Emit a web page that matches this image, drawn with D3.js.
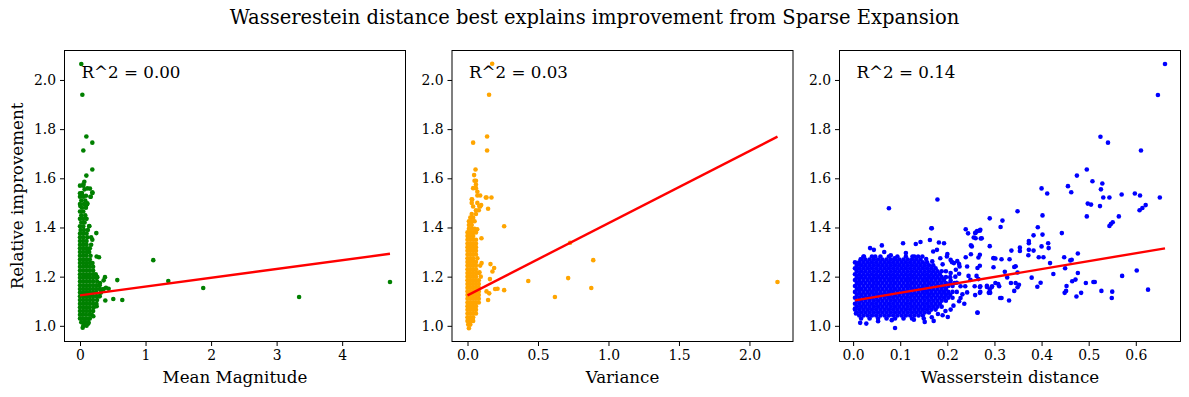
<!DOCTYPE html>
<html><head><meta charset="utf-8">
<script src="https://cdn.jsdelivr.net/npm/d3@7/dist/d3.min.js"></script>
<style>body{margin:0;background:#fff}svg{display:block}text{font-family:"DejaVu Serif",serif;fill:#000}</style>
</head><body><svg id="c" width="1189" height="397"></svg>
<script>
// ---------- DATA ----------
const title = "Wasserestein distance best explains improvement from Sparse Expansion";
const yLabel = "Relative improvement";
const xLabels = ["Mean Magnitude", "Variance", "Wasserstein distance"];
const r2Labels = ["R^2 = 0.00", "R^2 = 0.03", "R^2 = 0.14"];
const yTicks = [1.0, 1.2, 1.4, 1.6, 1.8, 2.0];
const magTicks = [0, 1, 2, 3, 4];
const varTicks = [0.0, 0.5, 1.0, 1.5, 2.0];
const wassTicks = [0.0, 0.1, 0.2, 0.3, 0.4, 0.5, 0.6];
// regression fits [intercept, slope]
const magFit = [1.124, 0.0357];
const varFit = [1.124, 0.2935];
const wassFit = [1.102, 0.322];

// dense core of Mean Magnitude panel: [y, [x...]]
const magCoreRows = [
[1.000,[0.05,0.10]],
[1.015,[0.02,0.07,0.13]],
[1.030,[0.00,0.05,0.10,0.15]],
[1.045,[0.00,0.04,0.09,0.14,0.18]],
[1.060,[0.00,0.05,0.10,0.15,0.20]],
[1.075,[0.00,0.05,0.10,0.15,0.21]],
[1.090,[0.00,0.05,0.10,0.15,0.20,0.25]],
[1.105,[0.00,0.05,0.10,0.15,0.20,0.26]],
[1.120,[0.00,0.05,0.10,0.15,0.20,0.25,0.30]],
[1.135,[0.00,0.05,0.10,0.15,0.20,0.25,0.32]],
[1.150,[0.00,0.05,0.10,0.15,0.20,0.25,0.30,0.36]],
[1.165,[0.00,0.05,0.10,0.15,0.20,0.25,0.30]],
[1.180,[0.00,0.05,0.10,0.15,0.20,0.26]],
[1.195,[0.00,0.05,0.10,0.15,0.20,0.25]],
[1.210,[0.00,0.05,0.10,0.15,0.20,0.24]],
[1.225,[0.00,0.05,0.10,0.15,0.20]],
[1.240,[0.00,0.05,0.10,0.15,0.20]],
[1.255,[0.00,0.05,0.10,0.15,0.19]],
[1.270,[0.00,0.05,0.10,0.15]],
[1.285,[0.00,0.05,0.10,0.16]],
[1.300,[0.00,0.05,0.10,0.14]],
[1.315,[0.00,0.05,0.10,0.15]],
[1.330,[0.00,0.05,0.10,0.17]],
[1.345,[0.00,0.05,0.10]],
[1.360,[0.00,0.05,0.11,0.17]],
[1.375,[0.00,0.05,0.10]],
[1.390,[0.01,0.06,0.12]],
[1.405,[0.00,0.05,0.14]],
[1.420,[0.02,0.07]],
[1.435,[0.00,0.05,0.10]],
[1.450,[0.02,0.08]],
[1.465,[0.00,0.05]],
[1.480,[0.03,0.09]],
[1.495,[0.00,0.06,0.11]],
[1.510,[0.02,0.08]],
[1.525,[0.00,0.05,0.16]],
[1.540,[0.03,0.19]],
[1.555,[0.07]],
[1.570,[0.00,0.05]]
];
const magOutliers = [[0.02,2.065],[0.036,1.94],[0.097,1.77],[0.188,1.745],[0.051,1.713],[0.188,1.636],[0.097,1.611],[0.066,1.586],[0.051,1.576],[0.112,1.559],[0.152,1.558],[0.0,1.539],[0.188,1.543],[0.163,1.525],[0.091,1.529],[0.03,1.532],[0.097,1.491],[0.005,1.487],[0.112,1.498],[0.249,1.377],[0.142,1.406],[0.188,1.35],[1.118,1.267],[0.254,1.282],[0.29,1.279],[0.381,1.198],[0.361,1.185],[0.569,1.186],[0.396,1.155],[0.437,1.151],[1.347,1.182],[1.88,1.154],[0.386,1.103],[0.508,1.109],[0.645,1.105],[0.041,0.992],[0.076,1.016],[0.127,1.009],[0.203,1.039],[0.254,1.08],[0.295,1.12],[0.33,1.147],[0.264,1.198],[0.305,1.174],[3.343,1.117],[4.73,1.178]];

// dense core of Variance panel
const varCoreRows = [
[0.990,[0.01]],
[1.005,[0.005,0.02]],
[1.020,[0.00,0.02,0.04]],
[1.035,[0.00,0.02,0.04]],
[1.050,[0.00,0.02,0.04,0.06]],
[1.065,[0.00,0.02,0.04,0.06]],
[1.080,[0.00,0.02,0.04,0.06]],
[1.095,[0.00,0.02,0.04,0.06,0.08]],
[1.110,[0.00,0.02,0.04,0.06,0.08]],
[1.125,[0.00,0.02,0.04,0.06,0.08]],
[1.140,[0.00,0.02,0.04,0.06,0.08]],
[1.155,[0.00,0.02,0.04,0.06,0.08]],
[1.170,[0.00,0.02,0.04,0.06,0.08]],
[1.185,[0.00,0.02,0.04,0.06,0.08]],
[1.200,[0.00,0.02,0.04,0.06]],
[1.215,[0.00,0.02,0.04,0.06,0.08]],
[1.230,[0.00,0.02,0.04,0.06]],
[1.245,[0.00,0.02,0.04,0.06,0.09]],
[1.260,[0.00,0.02,0.04,0.06]],
[1.275,[0.00,0.02,0.04,0.07]],
[1.290,[0.00,0.02,0.04,0.06]],
[1.305,[0.00,0.02,0.04,0.06]],
[1.320,[0.00,0.02,0.04,0.06]],
[1.335,[0.00,0.02,0.04,0.06]],
[1.350,[0.00,0.02,0.04,0.06]],
[1.365,[0.00,0.02,0.04]],
[1.380,[0.00,0.02,0.04,0.06]],
[1.395,[0.01,0.03,0.05]],
[1.410,[0.01,0.03]],
[1.425,[0.01,0.03,0.05]],
[1.440,[0.02,0.04]],
[1.455,[0.03,0.06]],
[1.470,[0.06,0.08]],
[1.485,[0.04,0.09]],
[1.500,[0.03,0.07]],
[1.515,[0.03]],
[1.530,[0.07,0.09]],
[1.545,[0.07]],
[1.560,[0.04,0.06]],
[1.575,[0.06]],
[1.590,[0.05,0.06]]
];
const varOutliers = [[0.175,2.066],[0.153,1.94],[0.139,1.77],[0.04,1.745],[0.139,1.713],[0.057,1.636],[0.047,1.613],[0.13,1.522],[0.17,1.522],[0.135,1.522],[0.033,1.514],[0.146,1.476],[0.097,1.491],[0.083,1.487],[0.26,1.405],[0.099,1.356],[0.069,1.393],[0.163,1.251],[0.189,1.235],[0.177,1.221],[0.159,1.19],[0.431,1.182],[0.213,1.151],[0.196,1.15],[0.26,1.145],[0.62,1.117],[0.146,1.105],[0.154,1.132],[0.135,1.14],[0.085,1.218],[0.094,1.2],[0.1,1.255],[0.714,1.194],[0.878,1.154],[0.892,1.267],[0.728,1.338],[2.199,1.178]];

// dense core of Wasserstein panel
const wassCoreRows = [
[1.030,[0.017,0.035,0.053,0.071,0.089,0.107,0.125,0.150]],
[1.042,[0.013,0.022,0.031,0.040,0.049,0.058,0.067,0.076,0.085,0.094,0.103,0.112,0.121,0.130,0.139,0.148]],
[1.054,[0.008,0.017,0.026,0.035,0.044,0.053,0.062,0.071,0.080,0.089,0.098,0.107,0.116,0.125,0.134,0.143,0.152,0.161]],
[1.066,[0.004,0.013,0.022,0.031,0.040,0.049,0.058,0.067,0.076,0.085,0.094,0.103,0.112,0.121,0.130,0.139,0.148,0.157,0.166,0.175]],
[1.078,[0.008,0.017,0.026,0.035,0.044,0.053,0.062,0.071,0.080,0.089,0.098,0.107,0.116,0.125,0.134,0.143,0.152,0.161,0.170,0.179,0.188]],
[1.090,[0.004,0.013,0.022,0.031,0.040,0.049,0.058,0.067,0.076,0.085,0.094,0.103,0.112,0.121,0.130,0.139,0.148,0.157,0.166,0.175,0.184]],
[1.102,[0.008,0.017,0.026,0.035,0.044,0.053,0.062,0.071,0.080,0.089,0.098,0.107,0.116,0.125,0.134,0.143,0.152,0.161,0.170,0.179,0.188,0.197]],
[1.114,[0.004,0.013,0.022,0.031,0.040,0.049,0.058,0.067,0.076,0.085,0.094,0.103,0.112,0.121,0.130,0.139,0.148,0.157,0.166,0.175,0.184,0.193,0.202,0.211]],
[1.126,[0.008,0.017,0.026,0.035,0.044,0.053,0.062,0.071,0.080,0.089,0.098,0.107,0.116,0.125,0.134,0.143,0.152,0.161,0.170,0.179,0.188,0.197,0.206]],
[1.138,[0.004,0.013,0.022,0.031,0.040,0.049,0.058,0.067,0.076,0.085,0.094,0.103,0.112,0.121,0.130,0.139,0.148,0.157,0.166,0.175,0.184,0.193,0.202,0.211,0.220]],
[1.150,[0.008,0.017,0.026,0.035,0.044,0.053,0.062,0.071,0.080,0.089,0.098,0.107,0.116,0.125,0.134,0.143,0.152,0.161,0.170,0.179,0.188,0.197]],
[1.162,[0.004,0.013,0.022,0.031,0.040,0.049,0.058,0.067,0.076,0.085,0.094,0.103,0.112,0.121,0.130,0.139,0.148,0.157,0.166,0.175,0.184,0.193,0.202,0.211]],
[1.174,[0.008,0.017,0.026,0.035,0.044,0.053,0.062,0.071,0.080,0.089,0.098,0.107,0.116,0.125,0.134,0.143,0.152,0.161,0.170,0.179,0.188,0.197,0.206,0.215]],
[1.186,[0.004,0.013,0.022,0.031,0.040,0.049,0.058,0.067,0.076,0.085,0.094,0.103,0.112,0.121,0.130,0.139,0.148,0.157,0.166,0.175,0.184,0.193]],
[1.198,[0.008,0.017,0.026,0.035,0.044,0.053,0.062,0.071,0.080,0.089,0.098,0.107,0.116,0.125,0.134,0.143,0.152,0.161,0.170,0.179,0.188,0.197,0.206]],
[1.210,[0.004,0.013,0.022,0.031,0.040,0.049,0.058,0.067,0.076,0.085,0.094,0.103,0.112,0.121,0.130,0.139,0.148,0.157,0.166,0.175,0.184]],
[1.222,[0.008,0.017,0.026,0.035,0.044,0.053,0.062,0.071,0.080,0.089,0.098,0.107,0.116,0.125,0.134,0.143,0.152,0.161,0.170,0.179,0.188,0.197]],
[1.234,[0.004,0.013,0.022,0.031,0.040,0.049,0.058,0.067,0.076,0.085,0.094,0.103,0.112,0.121,0.130,0.139,0.148,0.157,0.166,0.175]],
[1.246,[0.008,0.017,0.026,0.035,0.044,0.053,0.062,0.071,0.080,0.089,0.098,0.107,0.116,0.125,0.134,0.143,0.152,0.161,0.170]],
[1.258,[0.004,0.013,0.022,0.031,0.040,0.049,0.058,0.067,0.076,0.085,0.094,0.103,0.112,0.121,0.130,0.139,0.148,0.157]],
[1.270,[0.017,0.026,0.035,0.044,0.053,0.062,0.071,0.080,0.089,0.098,0.107,0.116,0.125,0.134,0.143]],
[1.282,[0.022,0.040,0.058,0.076,0.094,0.112,0.130]]
];
const wassOutliers = [[0.662,2.065],[0.647,1.939],[0.525,1.769],[0.541,1.745],[0.611,1.713],[0.496,1.636],[0.475,1.611],[0.508,1.588],[0.529,1.579],[0.456,1.568],[0.4,1.559],[0.463,1.543],[0.412,1.538],[0.598,1.538],[0.57,1.534],[0.609,1.53],[0.526,1.555],[0.531,1.522],[0.544,1.522],[0.651,1.522],[0.179,1.514],[0.076,1.478],[0.498,1.497],[0.505,1.493],[0.524,1.487],[0.621,1.491],[0.614,1.479],[0.608,1.47],[0.349,1.466],[0.402,1.449],[0.496,1.445],[0.564,1.445],[0.551,1.421],[0.547,1.414],[0.544,1.406],[0.29,1.437],[0.317,1.428],[0.313,1.402],[0.392,1.401],[0.167,1.397],[0.239,1.393],[0.263,1.385],[0.27,1.391],[0.259,1.377],[0.443,1.377],[0.402,1.371],[0.383,1.368],[0.373,1.345],[0.373,1.336],[0.414,1.336],[0.106,1.336],[0.271,1.355],[0.256,1.359],[0.29,1.324],[0.4,1.323],[0.415,1.316],[0.354,1.318],[0.373,1.309],[0.336,1.306],[0.383,1.306],[0.354,1.304],[0.372,1.287],[0.477,1.294],[0.298,1.275],[0.315,1.271],[0.332,1.271],[0.394,1.279],[0.404,1.279],[0.418,1.255],[0.448,1.279],[0.461,1.266],[0.464,1.269],[0.298,1.238],[0.342,1.239],[0.345,1.242],[0.322,1.22],[0.349,1.217],[0.425,1.211],[0.45,1.234],[0.602,1.225],[0.571,1.203],[0.327,1.197],[0.379,1.196],[0.477,1.215],[0.472,1.188],[0.465,1.181],[0.398,1.175],[0.308,1.17],[0.335,1.174],[0.345,1.174],[0.352,1.167],[0.391,1.159],[0.453,1.162],[0.494,1.174],[0.51,1.178],[0.513,1.178],[0.349,1.157],[0.342,1.142],[0.452,1.142],[0.449,1.134],[0.527,1.142],[0.55,1.139],[0.626,1.147],[0.474,1.119],[0.484,1.134],[0.549,1.113],[0.312,1.113],[0.331,1.103],[0.264,1.054],[0.291,1.134],[0.294,1.157],[0.27,1.138],[0.302,1.174],[0.288,1.134],[0.269,1.158],[0.244,1.376],[0.26,1.379],[0.269,1.387],[0.26,1.356],[0.273,1.356],[0.252,1.323],[0.25,1.327],[0.21,1.259],[0.221,1.263],[0.225,1.251],[0.239,1.279],[0.25,1.291],[0.266,1.278],[0.269,1.289],[0.226,1.241],[0.242,1.241],[0.264,1.235],[0.269,1.244],[0.207,1.215],[0.225,1.212],[0.245,1.203],[0.262,1.203],[0.249,1.187],[0.266,1.19],[0.207,1.184],[0.228,1.161],[0.238,1.161],[0.258,1.161],[0.27,1.161],[0.284,1.158],[0.242,1.136],[0.259,1.125],[0.269,1.134],[0.228,1.113],[0.225,1.1],[0.207,1.066],[0.201,1.036],[0.19,1.043],[0.264,1.053],[0.284,1.163],[0.29,1.147],[0.298,1.276],[0.295,1.161],[0.31,1.161],[0.315,1.113],[0.302,1.274],[0.015,1.012],[0.028,1.009],[0.089,0.991],[0.152,1.016],[0.053,1.019],[0.082,1.023],[0.036,1.316],[0.044,1.309],[0.061,1.327],[0.166,1.397],[0.143,1.341],[0.133,1.333],[0.163,1.349],[0.182,1.339],[0.193,1.336],[0.178,1.309],[0.126,1.282],[0.138,1.282],[0.147,1.282],[0.17,1.302],[0.185,1.275],[0.199,1.282],[0.207,1.268],[0.214,1.255],[0.016,1.271],[0.023,1.282],[0.006,1.232],[0.047,1.282],[0.08,1.287],[0.088,1.275],[0.217,1.2],[0.22,1.175],[0.232,1.128],[0.236,1.09],[0.213,1.082],[0.196,1.06],[0.18,1.048],[0.167,1.035],[0.218,1.228],[0.19,1.25],[0.168,1.262],[0.155,1.272],[0.112,1.296],[0.066,1.3],[0.2,1.292],[0.012,1.255],[0.004,1.07],[0.006,1.05],[0.171,1.02],[0.129,1.025]];

// ---------- DRAW ----------
const flat = rows => rows.flatMap(([yv, xs]) => xs.map(xv => [xv, yv]));
const panels = [
  {pts: flat(magCoreRows).concat(magOutliers), color: "green", ticks: magTicks, fmt: d3.format("d"), fit: magFit},
  {pts: flat(varCoreRows).concat(varOutliers), color: "orange", ticks: varTicks, fmt: d3.format(".1f"), fit: varFit},
  {pts: flat(wassCoreRows).concat(wassOutliers), color: "blue", ticks: wassTicks, fmt: d3.format(".1f"), fit: wassFit}
];
const svg = d3.select("#c");
const lefts = [64.5, 452, 839.5];
const pw = 341, plotTop = 50.5, ph = 291;
const allY = panels.flatMap(p => p.pts.map(d => d[1]));
const pad = ext => { const r = ext[1] - ext[0]; return [ext[0] - 0.05 * r, ext[1] + 0.05 * r]; };
const yDom = pad(d3.extent(allY));
const yScale = d3.scaleLinear().domain(yDom).range([plotTop + ph, plotTop]);

svg.append("text").attr("x", 594.5).attr("y", 24).attr("text-anchor", "middle")
  .style("font-size", "19.5px").text(title);

panels.forEach((p, i) => {
  const L = lefts[i];
  const xExt = d3.extent(p.pts, d => d[0]);
  const xScale = d3.scaleLinear().domain(pad(xExt)).range([L, L + pw]);
  const g = svg.append("g");
  const clipId = "clip" + i;
  svg.append("clipPath").attr("id", clipId).append("rect").attr("x", L).attr("y", plotTop).attr("width", pw).attr("height", ph);
  const plot = g.append("g").attr("clip-path", `url(#${clipId})`);
  plot.selectAll("circle").data(p.pts).join("circle")
    .attr("cx", d => xScale(d[0])).attr("cy", d => yScale(d[1])).attr("r", 2.3).attr("fill", p.color);
  const line = d3.line().x(d => xScale(d)).y(d => yScale(p.fit[0] + p.fit[1] * d));
  plot.append("path").datum(xExt).attr("d", line).attr("stroke", "red").attr("stroke-width", 2.4).attr("fill", "none");

  const xAxis = d3.axisBottom(xScale).tickValues(p.ticks).tickFormat(p.fmt).tickSize(4.5).tickPadding(4);
  const gx = g.append("g").attr("transform", `translate(0,${plotTop + ph})`).call(xAxis);
  const yAxis = d3.axisLeft(yScale).tickValues(yTicks).tickFormat(d3.format(".1f")).tickSize(4.5).tickPadding(4);
  const gy = g.append("g").attr("transform", `translate(${L},0)`).call(yAxis);
  [gx, gy].forEach(a => {
    a.select(".domain").remove();
    a.selectAll(".tick line").attr("stroke", "#000").attr("stroke-width", 1);
    a.selectAll(".tick text").style("font-size", "13.9px").style("font-family", "DejaVu Serif").attr("fill", "#000");
  });
  g.append("rect").attr("x", L).attr("y", plotTop).attr("width", pw).attr("height", ph)
    .attr("fill", "none").attr("stroke", "#000").attr("stroke-width", 1);
  g.append("text").attr("x", L + pw / 2).attr("y", 383).attr("text-anchor", "middle")
    .style("font-size", "16.7px").text(xLabels[i]);
  g.append("text").attr("x", L + 0.05 * pw).attr("y", plotTop + 0.05 * ph + 13)
    .style("font-size", "16.7px").text(r2Labels[i]);
});
svg.append("text").attr("transform", `translate(23,${plotTop + ph / 2}) rotate(-90)`).attr("text-anchor", "middle")
  .style("font-size", "16.7px").text(yLabel);
</script></body></html>
